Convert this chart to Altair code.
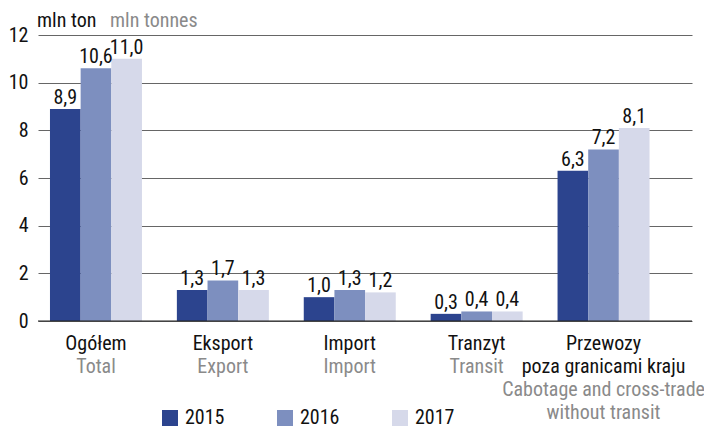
import altair as alt
import pandas as pd

FONT = ("Noto Sans Condensed, Roboto Condensed, DejaVu Sans Condensed, "
        "Liberation Sans Narrow, Open Sans Condensed, Liberation Sans, sans-serif")

categories = ["Ogółem", "Eksport", "Import", "Tranzyt", "Przewozy poza granicami kraju"]
cat_pl = [["Ogółem"], ["Eksport"], ["Import"], ["Tranzyt"], ["Przewozy", "poza granicami kraju"]]
cat_en = [["Total"], ["Export"], ["Import"], ["Transit"], ["Cabotage and cross-trade", "without transit"]]
years = ["2015", "2016", "2017"]
v2015 = [8.9, 1.3, 1.0, 0.3, 6.3]
v2016 = [10.6, 1.7, 1.3, 0.4, 7.2]
v2017 = [11.0, 1.3, 1.2, 0.4, 8.1]
colors = ["#2c448e", "#7d8fbf", "#d6d9ea"]
y_ticks = [0, 2, 4, 6, 8, 10, 12]
unit_pl = "mln ton"
unit_en = "mln tonnes"

rows = []
for i, c in enumerate(categories):
    for yr, vals in zip(years, [v2015, v2016, v2017]):
        rows.append({"cat": c, "year": yr, "value": vals[i],
                     "label": f"{vals[i]:.1f}".replace(".", ",")})
df = pd.DataFrame(rows)

cat_df = pd.DataFrame({
    "cat": categories,
    "pl": cat_pl,
    "en": cat_en,
    "npl": [len(p) for p in cat_pl],
})

xscale = alt.Scale(domain=categories, paddingInner=0.275, paddingOuter=0.2145, align=0.22)
yscale = alt.Scale(domain=[0, 12], nice=False)

x_enc = alt.X("cat:N", scale=xscale, axis=None, sort=categories)
xoff = alt.XOffset("year:N", sort=years, scale=alt.Scale(paddingInner=0, paddingOuter=0))

bars = alt.Chart(df).mark_bar().encode(
    x=x_enc,
    xOffset=xoff,
    y=alt.Y("value:Q", scale=yscale,
            axis=alt.Axis(values=y_ticks, grid=True, gridColor="#666666", gridWidth=1,
                          domain=False, ticks=False, labelFontSize=20, labelPadding=10,
                          labelColor="#111111", labelFont=FONT, title=None)),
    color=alt.Color("year:N", sort=years,
                    scale=alt.Scale(domain=years, range=colors),
                    legend=alt.Legend(orient="none", legendX=122, legendY=373,
                                      direction="horizontal", title=None,
                                      symbolType="square", symbolSize=256,
                                      symbolStrokeWidth=0, labelFontSize=20,
                                      labelFont=FONT, labelColor="#111111",
                                      labelOffset=5, columnPadding=50)),
)

labels = alt.Chart(df).mark_text(baseline="alphabetic", dy=-5, fontSize=20,
                                 font=FONT, color="#111111").encode(
    x=x_enc,
    xOffset=xoff,
    y=alt.Y("value:Q", scale=yscale),
    text="label:N",
)

baseline = alt.Chart(pd.DataFrame({"v": [0]})).mark_rule(color="#222222", strokeWidth=1.2).encode(
    y=alt.Y("v:Q", scale=yscale)
)

cat_pl_text = alt.Chart(cat_df).mark_text(baseline="alphabetic", fontSize=20, font=FONT,
                                          lineHeight=23, color="#111111").encode(
    x=x_enc, y=alt.value(315), text="pl")

cat_en_1 = alt.Chart(cat_df).transform_filter("datum.npl == 1").mark_text(
    baseline="alphabetic", fontSize=20, font=FONT, lineHeight=23, color="#8a8a8a").encode(
    x=x_enc, y=alt.value(338), text="en")

cat_en_2 = alt.Chart(cat_df).transform_filter("datum.npl == 2").mark_text(
    baseline="alphabetic", fontSize=20, font=FONT, lineHeight=23, color="#8a8a8a").encode(
    x=x_enc, y=alt.value(361), text="en")

t1 = alt.Chart(pd.DataFrame({"t": [unit_pl]})).mark_text(
    align="left", baseline="alphabetic", fontSize=20, font=FONT,
    color="#111111").encode(x=alt.value(-1), y=alt.value(-8), text="t:N")
t2 = alt.Chart(pd.DataFrame({"t": [unit_en]})).mark_text(
    align="left", baseline="alphabetic", fontSize=20, font=FONT,
    color="#8a8a8a").encode(x=alt.value(72), y=alt.value(-8), text="t:N")

chart = alt.layer(bars, baseline, labels, cat_pl_text, cat_en_1, cat_en_2, t1, t2).properties(
    width=654, height=286,
    padding={"left": 30, "top": 27, "right": 12, "bottom": 107},
    autosize="none",
).configure_view(stroke=None).configure_axis(labelFont=FONT)

chart.save("out.html", embed_options={"renderer": "svg", "actions": False})
